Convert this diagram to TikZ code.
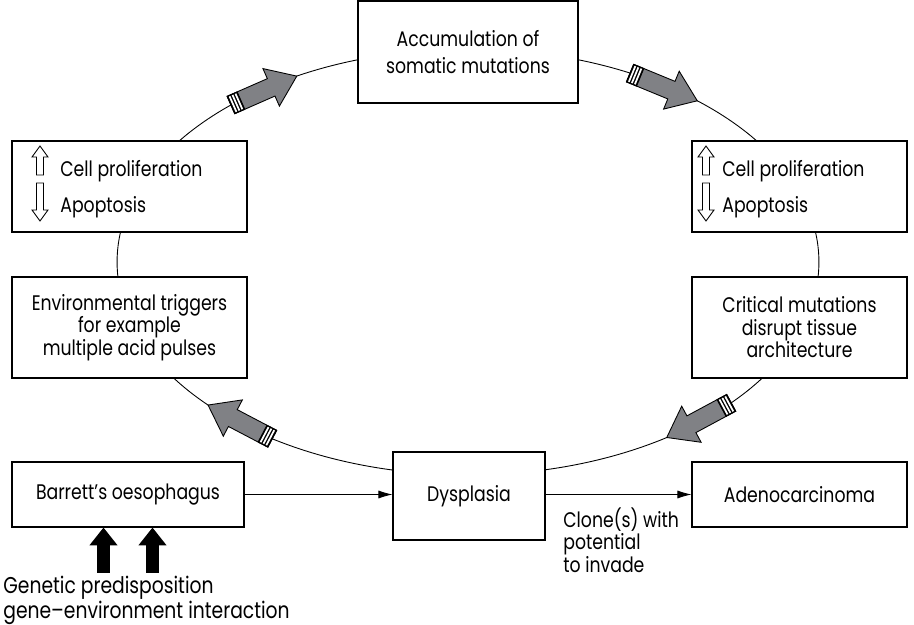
\documentclass[tikz,border=0pt]{standalone}
\usepackage{fontspec}
\setmainfont{Poppins}[FakeStretch=0.82]
\usetikzlibrary{arrows.meta,calc,positioning}
\definecolor{arrowgray}{RGB}{128,129,133}
\tikzset{%
	box/.style     = {draw, rectangle, fill=white, line width=0.6pt, align=center, inner sep=0pt, font=\fontsize{12}{12.8}\selectfont},
	txt/.style     = {inner sep=0pt, align=left, font=\fontsize{12}{12.8}\selectfont},
	flow/.style    = {line width=0.5pt, -{Latex[length=8pt,width=4.6pt]}},
	push/.style    = {line width=7.4pt, -{Triangle[length=10.2pt,width=15.4pt]}},
	uparr/.pic     = {\draw[fill=white, line width=0.5pt] (0,-15) -- (8,-4) -- (3.5,-4) -- (3.5,14) -- (-3.5,14) -- (-3.5,-4) -- (-8,-4) -- cycle;},
	dnarr/.pic     = {\draw[fill=white, line width=0.5pt] (0,19) -- (8,8) -- (3.5,8) -- (3.5,-19) -- (-3.5,-19) -- (-3.5,8) -- (-8,8) -- cycle;},
}
% grey arrow lying on the ring, from angle #1 to angle #2
\newcommand\ringarrow[2]{%
	\coordinate (t) at ($(ring)+(#1:7.02cm and 4.26cm)$);
	\coordinate (h) at ($(ring)+(#2:7.02cm and 4.26cm)$);
	\coordinate (hb) at ($(h)!0.56cm!(t)$);
	\coordinate (sb) at ($(t)!0.22cm!(h)$);
	\filldraw[fill=arrowgray, line width=0.5pt, line join=miter]
		($(t)!0.19cm!90:(h)$) -- ($(hb)!0.19cm!90:(h)$) -- ($(hb)!0.41cm!90:(h)$) -- (h)
		-- ($(hb)!0.41cm!-90:(h)$) -- ($(hb)!0.19cm!-90:(h)$) -- ($(t)!0.19cm!-90:(h)$) -- cycle;
	\filldraw[line width=0.5pt] ($(t)!0.19cm!90:(h)$) -- ($(sb)!0.19cm!90:(h)$) -- ($(sb)!0.19cm!-90:(h)$) -- ($(t)!0.19cm!-90:(h)$) -- cycle;
	\foreach \d in {0.045,0.11,0.175} {
		\coordinate (s) at ($(t)!\d cm!(h)$);
		\draw[white, line width=1pt] ($(s)!0.17cm!90:(h)$) -- ($(s)!0.17cm!-90:(h)$);
	}
}

\begin{document}
\begin{tikzpicture}[x=0.02cm,y=-0.02cm]
	\useasboundingbox (0,0) rectangle (914,625);
	\coordinate (ring) at (468,262);
	\draw[line width=0.5pt] (ring) ellipse [x radius=7.02cm, y radius=4.26cm];

	\ringarrow{132.5}{119.2}
	\ringarrow{62.5}{49.2}
	\ringarrow{-41.4}{-55.5}
	\ringarrow{-123.9}{-137.8}

	\node [box, minimum width=4.4cm, minimum height=2.04cm, font=\fontsize{12}{15}\selectfont] (accum) at (468,52) {Accumulation of\\somatic mutations};
	\node [box, minimum width=4.7cm, minimum height=1.82cm] (lcell) at (129.5,186.5) {};
	\node [box, minimum width=4.3cm, minimum height=1.82cm] (rcell) at (799.5,186.5) {};
	\node [box, minimum width=4.7cm, minimum height=2.02cm] (env) at (129.5,327.5) {Environmental triggers\\for example\\multiple acid pulses};
	\node [box, minimum width=4.3cm, minimum height=2.02cm] (crit) at (799.5,327.5) {Critical mutations\\disrupt tissue\\architecture};
	\node [box, minimum width=4.64cm, minimum height=1.3cm] (barrett) at (128,494.5) {Barrett's oesophagus};
	\node [box, minimum width=3.04cm, minimum height=1.76cm] (dys) at (469,496) {Dysplasia};
	\node [box, minimum width=4.3cm, minimum height=1.3cm] (adeno) at (799.5,494.5) {Adenocarcinoma};

	% inside the two proliferation boxes
	\node [txt, anchor=base west] (lprol) at (60,177) {Cell proliferation};
	\node [txt, anchor=base west] (lapop) at (60,213) {Apoptosis};
	\pic at (40,161) {uparr};
	\pic at (40,202) {dnarr};
	\node [txt, anchor=base west] (rprol) at (722,177) {Cell proliferation};
	\node [txt, anchor=base west] (rapop) at (722,213) {Apoptosis};
	\pic at (706,161) {uparr};
	\pic at (706,202) {dnarr};

	\node [txt, anchor=north west, font=\fontsize{13}{11.5}\selectfont] (genes) at (3,576) {Genetic predisposition\\gene--environment interaction};
	\node [txt, anchor=north west] (clone) at (563,507) {Clone(s) with\\potential\\to invade};

	\draw[flow] (barrett.east) -- (dys.west |- barrett.east);
	\draw[flow] (dys.east |- adeno.west) -- (adeno.west);
	\draw[push] ($(barrett.south)+(-24.5,45)$) -- ($(barrett.south)+(-24.5,0)$);
	\draw[push] ($(barrett.south)+(24.5,45)$) -- ($(barrett.south)+(24.5,0)$);
\end{tikzpicture}
\end{document}
